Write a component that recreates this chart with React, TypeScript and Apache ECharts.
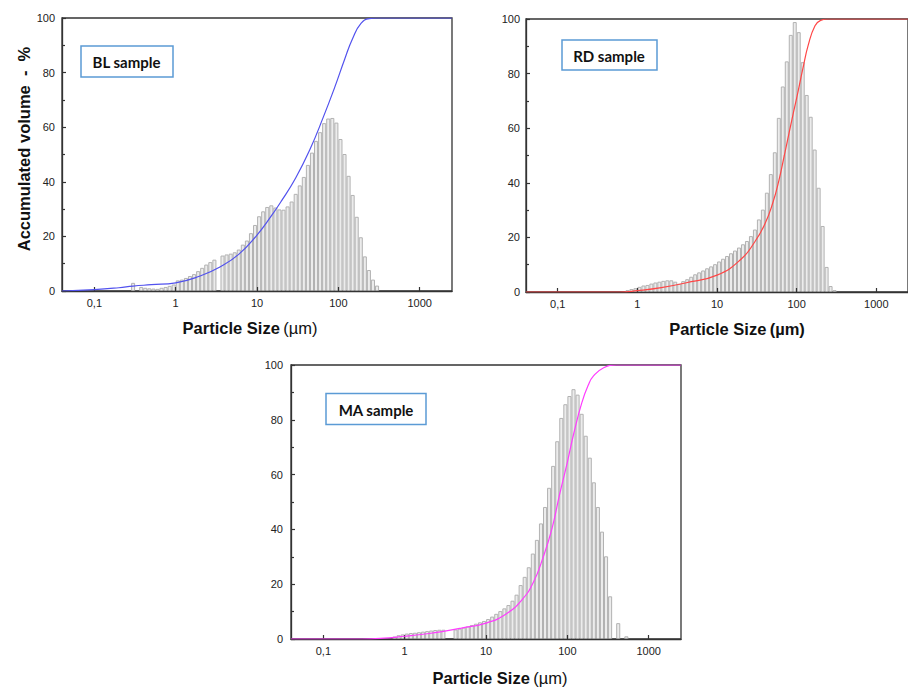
import React, { useEffect, useRef } from 'react';
import * as echarts from 'echarts';

// Size-class edges (µm), 20 classes per decade (lower edge of each bin, last = upper edge of last bin)
const binEdges = [
  0.283, 0.317, 0.356, 0.399, 0.448, 0.502, 0.564, 0.632, 0.71, 0.796, 0.893,
  1.002, 1.125, 1.262, 1.416, 1.589, 1.783, 2.0, 2.244, 2.518, 2.825,
  3.17, 3.557, 3.991, 4.477, 5.024, 5.637, 6.325, 7.096, 7.962, 8.934,
  10.024, 11.247, 12.619, 14.159, 15.887, 17.825, 20.0, 22.44, 25.179, 28.251,
  31.698, 35.566, 39.905, 44.774, 50.238, 56.368, 63.246, 70.963, 79.621, 89.337,
  100.237, 112.468, 126.191, 141.589, 158.866, 178.25, 200.0, 224.404, 251.785, 282.508,
  316.979, 355.656, 399.052, 447.744, 502.377, 563.677, 632.456,
];

// Histogram heights per bin
const blBars = [
  2.8, 0, 1.3, 1.0, 0.8, 0.7, 0.6, 1.0, 1.3, 1.7, 2.2,
  3.7, 4.0, 4.6, 5.3, 6.0, 7.1, 8.3, 9.5, 10.4, 11.3,
  0, 12.8, 13.2, 13.5, 14.0, 15.0, 16.8, 18.3, 21, 24,
  27.2, 29, 30.6, 31.2, 30.4, 29.7, 29.6, 30.8, 32.6, 35.4,
  38.5, 41.6, 46, 50.5, 54.8, 58, 61.3, 63, 63.2, 61.5,
  55.5, 50, 42, 35, 27, 19.5, 12.5, 7.5, 4.0, 1.8,
  0, 0, 0, 0, 0, 0,
];
const rdBars = [
  0, 0, 0, 0, 0, 0, 0, 0, 0.5, 0.9, 1.2,
  1.7, 2.2, 2.4, 2.9, 3.3, 3.6, 3.9, 4.1, 4.1, 3.6,
  2.8, 3.8, 4.5, 5.4, 6.3, 7.0, 7.7, 8.5, 9.2, 10,
  11, 12, 13, 14, 15, 16.1, 17.3, 18.5, 20.3, 22.7,
  26.4, 30, 36.2, 43, 51, 63.6, 75.1, 84.3, 94, 98.7,
  95, 84, 72, 64, 52, 38, 24, 9, 2, 0.5,
  0, 0, 0, 0, 0, 0,
];
const maBars = [
  0, 0, 0, 0, 0, 0, 0, 0, 0.7, 1.2, 1.5,
  1.8, 2.0, 2.1, 2.3, 2.5, 2.7, 2.9, 3.1, 3.2, 3.2,
  0, 0, 3.3, 3.6, 4.0, 4.4, 4.9, 5.4, 5.9, 6.4,
  7.1, 8.0, 9.0, 10.0, 11.0, 12.2, 13.8, 16, 19.5, 22.5,
  26, 31, 36, 42, 48, 55, 63, 72, 80.5, 85.5,
  88.5, 91, 89, 82, 74, 66, 57, 48, 39, 30,
  15.4, 0, 5.6, 0, 0.8, 0,
];

// Cumulative curves
const blCurveX = [0.04, 0.1, 0.2, 0.3, 0.5, 1, 2, 3.5, 6, 10, 15, 20, 30, 45, 65, 90, 120, 150, 190, 240, 300, 2500];
const blCurveY = [0, 0.5, 1.2, 1.8, 2.3, 3.0, 5.5, 8.8, 13.5, 20.5, 27.5, 33, 41.5, 52, 63.5, 74.5, 85, 92.5, 98, 99.8, 100, 100];
const rdCurveX = [0.04, 0.6, 1, 2, 4, 10, 20, 30, 40, 50, 60, 70, 80, 90, 100, 120, 140, 170, 200, 250, 2500];
const rdCurveY = [0, 0, 0.5, 1.6, 3.3, 6.2, 12, 18.5, 25, 32.5, 41, 50, 58, 65, 71, 82, 90.5, 97.5, 99.5, 100, 100];
const maCurveX = [0.04, 0.3, 0.5, 1, 2, 3, 5, 10, 18, 28, 38, 50, 65, 80, 100, 120, 150, 180, 210, 280, 400, 2500];
const maCurveY = [0, 0, 0.2, 1.0, 2.0, 2.8, 4.0, 5.8, 9.3, 14.5, 20.5, 29.5, 40.5, 52.5, 64.5, 75, 86, 92.5, 96, 99, 100, 100];

const xTickValues = [0.1, 1, 10, 100, 1000];
const xTickLabels = ['0,1', '1', '10', '100', '1000'];
const sampleNames = ['BL sample', 'RD sample', 'MA sample'];
const xTitleMain = 'Particle Size';
const xTitleUnit = '(µm)';
const yTitle = 'Accumulated volume  -  %';

const FONT = '"Liberation Sans", Arial, sans-serif';
const LEG_FONT = 'Lato, "Open Sans", sans-serif';

export default function App() {
  const ref = useRef<HTMLDivElement>(null);
  useEffect(() => {
    const chart = echarts.init(ref.current!, null, { renderer: 'svg' });

    const grids = [
      { left: 62, top: 18, width: 390, height: 273 },
      { left: 526, top: 19, width: 390, height: 273 },
      { left: 291, top: 365, width: 390, height: 274 },
    ];
    const yLabelMargin = [7, 6, 8];
    const yLabelPad = [[0, 0, 0, 0], [7, 0, 0, 0], [0, 0, 0, 0]];
    const bars = [blBars, rdBars, maBars];
    const curvesX = [blCurveX, rdCurveX, maCurveX];
    const curvesY = [blCurveY, rdCurveY, maCurveY];
    const colors = ['#5252ee', '#ff4646', '#ff3cff'];

    const xFormatter = (v: number) => {
      for (let i = 0; i < xTickValues.length; i++) {
        if (Math.abs(v - xTickValues[i]) / xTickValues[i] < 1e-6) return xTickLabels[i];
      }
      return '';
    };

    const xAxis = grids.map((_, i) => ({
      type: 'log',
      logBase: 10,
      gridIndex: i,
      min: 0.04,
      max: 2500,
      z: 4,
      axisLine: { show: true, lineStyle: { color: '#333', width: 1.3 } },
      axisTick: { show: true, inside: true, length: 4, lineStyle: { color: '#333', width: 1.2 } },
      axisLabel: { margin: 6, fontSize: 11, color: '#222', fontFamily: FONT, formatter: xFormatter, showMinLabel: false, showMaxLabel: false },
      splitLine: { show: false },
      minorTick: { show: false },
    }));
    const yAxis = grids.map((_, i) => ({
      type: 'value',
      gridIndex: i,
      min: 0,
      max: 100,
      interval: 20,
      z: 4,
      axisLine: { show: true, lineStyle: { color: '#333', width: 1.3 } },
      axisTick: { show: true, inside: true, length: 4, lineStyle: { color: '#333', width: 1.2 } },
      minorTick: { show: true, splitNumber: 2, length: 3, lineStyle: { color: '#333', width: 1.2 } },
      axisLabel: { margin: yLabelMargin[i], fontSize: 11, color: '#222', fontFamily: FONT, padding: yLabelPad[i] },
      splitLine: { show: false },
    }));

    const series: any[] = [];
    grids.forEach((_, i) => {
      const data = bars[i]
        .map((v, j) => [binEdges[j], binEdges[j + 1], v])
        .filter((d) => d[2] > 0);
      series.push({
        type: 'custom',
        xAxisIndex: i,
        yAxisIndex: i,
        encode: { x: [0, 1], y: 2 },
        data,
        z: 2,
        renderItem: (params: any, api: any) => {
          const v = api.value(2);
          const p0 = api.coord([api.value(0), 0]);
          const p1 = api.coord([api.value(1), v]);
          return {
            type: 'rect',
            shape: { x: p0[0] + 0.5, y: p1[1], width: Math.max(1, p1[0] - p0[0] - 1), height: p0[1] - p1[1] },
            style: { fill: '#ececec', stroke: '#b2b2b2', lineWidth: 1 },
          };
        },
      });
      series.push({
        type: 'line',
        xAxisIndex: i,
        yAxisIndex: i,
        data: curvesX[i].map((x, j) => [x, curvesY[i][j]]),
        smooth: 0.5,
        showSymbol: false,
        symbol: 'none',
        clip: true,
        z: 5,
        lineStyle: { color: colors[i], width: 1.2 },
      });
    });

    const legendBoxes = [
      { x: 81, y: 46, w: 92, h: 31, tx: 126.5, ty: 62 },
      { x: 562, y: 40, w: 95, h: 30, tx: 609, ty: 55.5 },
      { x: 326, y: 393.5, w: 100, h: 31, tx: 376, ty: 409.5 },
    ];
    const titleCenters = [
      { x: 250, y: 328, unitBold: false },
      { x: 737, y: 329, unitBold: true },
      { x: 500, y: 677.5, unitBold: false },
    ];

    const graphic: any[] = [];
    legendBoxes.forEach((b, i) => {
      graphic.push({
        type: 'rect',
        shape: { x: b.x, y: b.y, width: b.w, height: b.h },
        style: { fill: '#fff', stroke: '#5b9bd5', lineWidth: 1.5 },
        z: 10,
      });
      graphic.push({
        type: 'text',
        x: b.tx,
        y: b.ty,
        z: 11,
        style: {
          text: sampleNames[i],
          fill: '#111',
          fontSize: 15,
          fontWeight: 'bold',
          fontFamily: LEG_FONT,
          align: 'center',
          verticalAlign: 'middle',
        },
      });
    });
    titleCenters.forEach((t) => {
      graphic.push({
        type: 'text',
        x: t.x,
        y: t.y,
        z: 11,
        style: {
          text: `{b|${xTitleMain}} {${t.unitBold ? 'b' : 'r'}|${xTitleUnit}}`,
          align: 'center',
          verticalAlign: 'middle',
          fill: '#111',
          rich: {
            b: { fontSize: 16.5, fontWeight: 'bold', fontFamily: FONT, fill: '#111' },
            r: { fontSize: 16.5, fontWeight: 'normal', fontFamily: FONT, fill: '#111' },
          },
        },
      });
    });
    graphic.push({
      type: 'text',
      x: 23.5,
      y: 149,
      rotation: Math.PI / 2,
      z: 11,
      style: {
        text: yTitle,
        fill: '#111',
        fontSize: 16.5,
        fontWeight: 'bold',
        fontFamily: FONT,
        align: 'center',
        verticalAlign: 'middle',
      },
    });

    chart.setOption({
      animation: false,
      backgroundColor: '#fff',
      grid: grids.map((g) => ({ ...g, show: true, borderColor: '#333', borderWidth: 1.3, backgroundColor: 'transparent', containLabel: false })),
      xAxis,
      yAxis,
      series,
      graphic,
    });
    return () => chart.dispose();
  }, []);
  return <div ref={ref} style={{ position: 'absolute', left: 0, top: 0, width: 908, height: 688, background: '#fff' }} />;
}
